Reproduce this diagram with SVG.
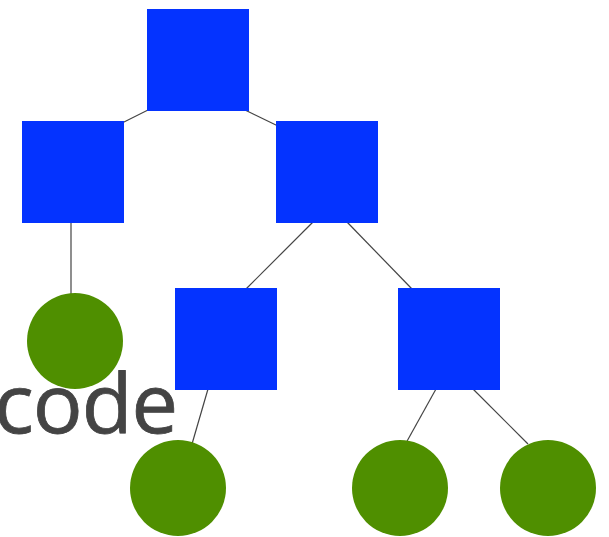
<svg xmlns="http://www.w3.org/2000/svg" width="609" height="537" viewBox="0 0 609 537">
  <style>
    .edge { stroke: #444; stroke-width: 1.2; fill: none; }
    .box { fill: #0433ff; }
    .leaf { fill: #4f8f00; }
    .label { font-family: "Open Sans", "Noto Sans", sans-serif; font-size: 83px; fill: #444; }
  </style>
  <rect width="609" height="537" fill="#fff"/>
  <g id="connectors">
    <line class="edge" x1="150" y1="109" x2="122" y2="123"/>
    <line class="edge" x1="243" y1="109" x2="278" y2="126"/>
    <line class="edge" x1="71" y1="223" x2="71" y2="295"/>
    <line class="edge" x1="313" y1="222" x2="246" y2="289"/>
    <line class="edge" x1="347" y1="222" x2="412" y2="289"/>
    <line class="edge" x1="208" y1="389" x2="192" y2="444"/>
    <line class="edge" x1="436" y1="389" x2="406" y2="443"/>
    <line class="edge" x1="473" y1="389" x2="528" y2="444"/>
  </g>
  <g id="node-root"><rect class="box" x="147" y="9" width="102" height="102"/></g>
  <g id="node-left"><rect class="box" x="22" y="121" width="102" height="102"/></g>
  <g id="node-right"><rect class="box" x="276" y="121" width="102" height="102"/></g>
  <g id="node-right-left"><rect class="box" x="175" y="288" width="102" height="102"/></g>
  <g id="node-right-right"><rect class="box" x="398" y="288" width="102" height="102"/></g>
  <g id="leaf-a"><circle class="leaf" cx="75" cy="341" r="48"/></g>
  <g id="leaf-b"><circle class="leaf" cx="178" cy="488" r="48"/></g>
  <g id="leaf-c"><circle class="leaf" cx="400" cy="488" r="48"/></g>
  <g id="leaf-d"><circle class="leaf" cx="548" cy="488" r="48"/></g>
  <text class="label" x="-6" y="433" stroke="#444" stroke-width="0.8" letter-spacing="-1">code</text>
</svg>
